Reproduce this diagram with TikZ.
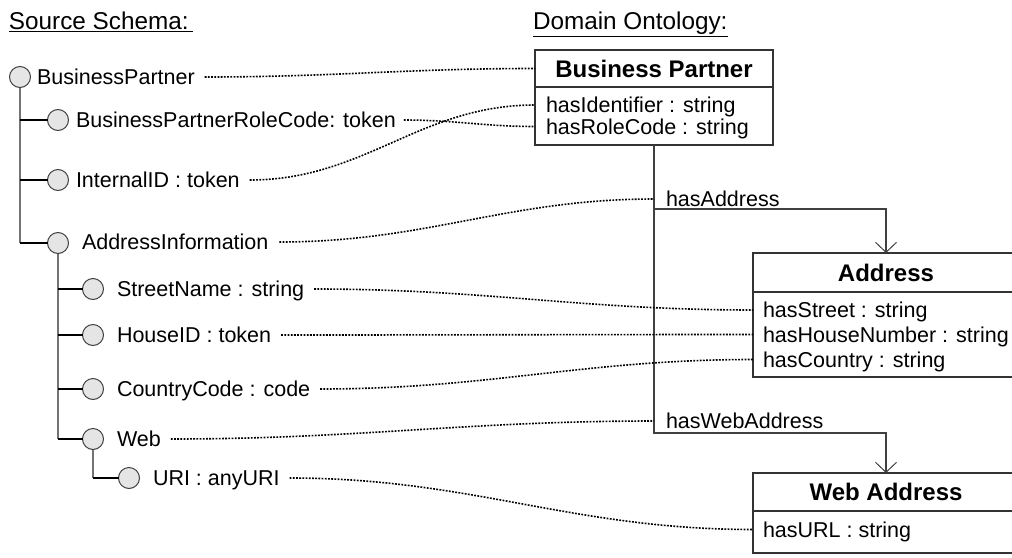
\documentclass[tikz,border=0pt]{standalone}
\usepackage{fontspec}
\setmainfont{Liberation Sans}
\usetikzlibrary{arrows.meta}
\begin{document}
\begin{tikzpicture}[x=1pt,y=-1pt,
  every node/.style={inner sep=0pt, outer sep=0pt},
  txt/.style={font=\fontsize{21.5}{26}\selectfont, text height=15.4pt, text depth=0pt},
  lbl/.style={txt, anchor=west},
  sect/.style={font=\fontsize{24.3}{29}\selectfont, text height=17.4pt, text depth=0pt, anchor=west},
  ttl/.style={font=\fontsize{24}{28}\selectfont\bfseries, text height=17.2pt, text depth=0pt},
  elem/.style={circle, draw=black!75, fill=black!10, line width=1pt, minimum size=21pt},
  vline/.style={draw=black!55, line width=1.3pt},
  hline/.style={draw=black, line width=1.1pt},
  umlbox/.style={draw=black!80, line width=1.2pt},
  assoc/.style={draw=black!75, line width=1.2pt},
  assocarrow/.style={assoc, -{Straight Barb[length=10pt,width=21pt,line width=1pt]}},
  map/.style={draw=black, line width=1.6pt, dash pattern=on 1.8pt off 1.4pt},
  mapcurve/.style={map, out=0, in=180}]
\path[use as bounding box, clip] (0,0) rectangle (1012,557);

% section titles
\node[sect] (srctitle) at (9,21) {\underline{Source Schema:\kern4pt}};
\node[sect] (ontotitle) at (533,21) {\underline{Domain Ontology:}};

% ---------- source schema tree ----------
\node[elem] (root) at (20,77) {};
\node[elem] (rc)   at (58,120) {};
\node[elem] (iid)  at (58,180) {};
\node[elem] (ai)   at (58,243) {};
\node[elem] (sn)   at (93,289) {};
\node[elem] (hid)  at (93,335) {};
\node[elem] (cc)   at (93,389) {};
\node[elem] (web)  at (93,439) {};
\node[elem] (uri)  at (129,478) {};

\node[lbl] (troot) at (37,77)  {BusinessPartner};
\node[lbl] (trc)   at (76,120) {BusinessPartnerRoleCode: token};
\node[lbl] (tiid)  at (76,180) {InternalID : token};
\node[lbl] (tai)   at (82,242) {AddressInformation};
\node[lbl] (tsn)   at (117,289) {StreetName : string};
\node[lbl] (thid)  at (117,335) {HouseID : token};
\node[lbl] (tcc)   at (117,389) {CountryCode : code};
\node[lbl] (tweb)  at (117,439) {Web};
\node[lbl] (turi)  at (153,478) {URI : anyURI};

% tree branches
\draw[vline] (root.south) -- (root.south |- ai.west);
\draw[hline] (root.south |- rc.west) -- (rc.west);
\draw[hline] (root.south |- iid.west) -- (iid.west);
\draw[hline] (root.south |- ai.west) -- (ai.west);
\draw[vline] (ai.south) -- (ai.south |- web.west);
\draw[hline] (ai.south |- sn.west) -- (sn.west);
\draw[hline] (ai.south |- hid.west) -- (hid.west);
\draw[hline] (ai.south |- cc.west) -- (cc.west);
\draw[hline] (ai.south |- web.west) -- (web.west);
\draw[vline] (web.south) -- (web.south |- uri.west);
\draw[hline] (web.south |- uri.west) -- (uri.west);

% ---------- domain ontology ----------
% Business Partner
\node[umlbox, ttl, minimum width=238pt, minimum height=37pt] (bph) at (654,68.5) {Business Partner};
\node[umlbox, minimum width=238pt, minimum height=58pt, anchor=north] (bpb) at (bph.south) {};
\node[lbl] (hasid)   at (546,105) {hasIdentifier : string};
\node[lbl] (hasrole) at (546,126.5) {hasRoleCode : string};

% Address
\node[umlbox, ttl, minimum width=266pt, minimum height=39pt] (adh) at (886,272.5) {Address};
\node[umlbox, minimum width=266pt, minimum height=85pt, anchor=north] (adb) at (adh.south) {};
\node[lbl] (hasstreet)  at (763,310) {hasStreet : string};
\node[lbl] (hashouse)   at (763,334.5) {hasHouseNumber : string};
\node[lbl] (hascountry) at (763,359.5) {hasCountry : string};

% Web Address
\node[umlbox, ttl, minimum width=266pt, minimum height=38pt] (wah) at (886,492) {Web Address};
\node[umlbox, minimum width=266pt, minimum height=42pt, anchor=north] (wab) at (wah.south) {};
\node[lbl] (hasurl) at (763,529.5) {hasURL : string};

% associations
\coordinate (aturn) at (654,209);
\coordinate (wturn) at (654,433);
\draw[assoc] (bpb.south) -- (aturn);
\draw[assocarrow] (aturn) -- (wturn) -| (wah.north);
\draw[assocarrow] (aturn) -| (adh.north);
\node[lbl] (lhasaddr) at (666,199) {hasAddress};
\node[lbl] (lhasweb)  at (666,421) {hasWebAddress};

% ---------- mappings ----------
\draw[mapcurve] ([xshift=10pt]troot.east) to (bph.west);
\draw[mapcurve] ([xshift=8pt]trc.east) to (bpb.west |- hasrole.west);
\draw[mapcurve] ([xshift=10pt]tiid.east) to (bpb.west |- hasid.west);
\draw[mapcurve] ([xshift=11pt]tai.east) to (aturn |- lhasaddr.west);
\draw[mapcurve] ([xshift=10pt]tsn.east) to (adb.west |- hasstreet.west);
\draw[mapcurve] ([xshift=10pt]thid.east) to (adb.west |- hashouse.west);
\draw[mapcurve] ([xshift=10pt]tcc.east) to (adb.west |- hascountry.west);
\draw[mapcurve] ([xshift=10pt]tweb.east) to (wturn |- lhasweb.west);
\draw[mapcurve] ([xshift=10pt]turi.east) to (wab.west |- hasurl.west);
\end{tikzpicture}
\end{document}
